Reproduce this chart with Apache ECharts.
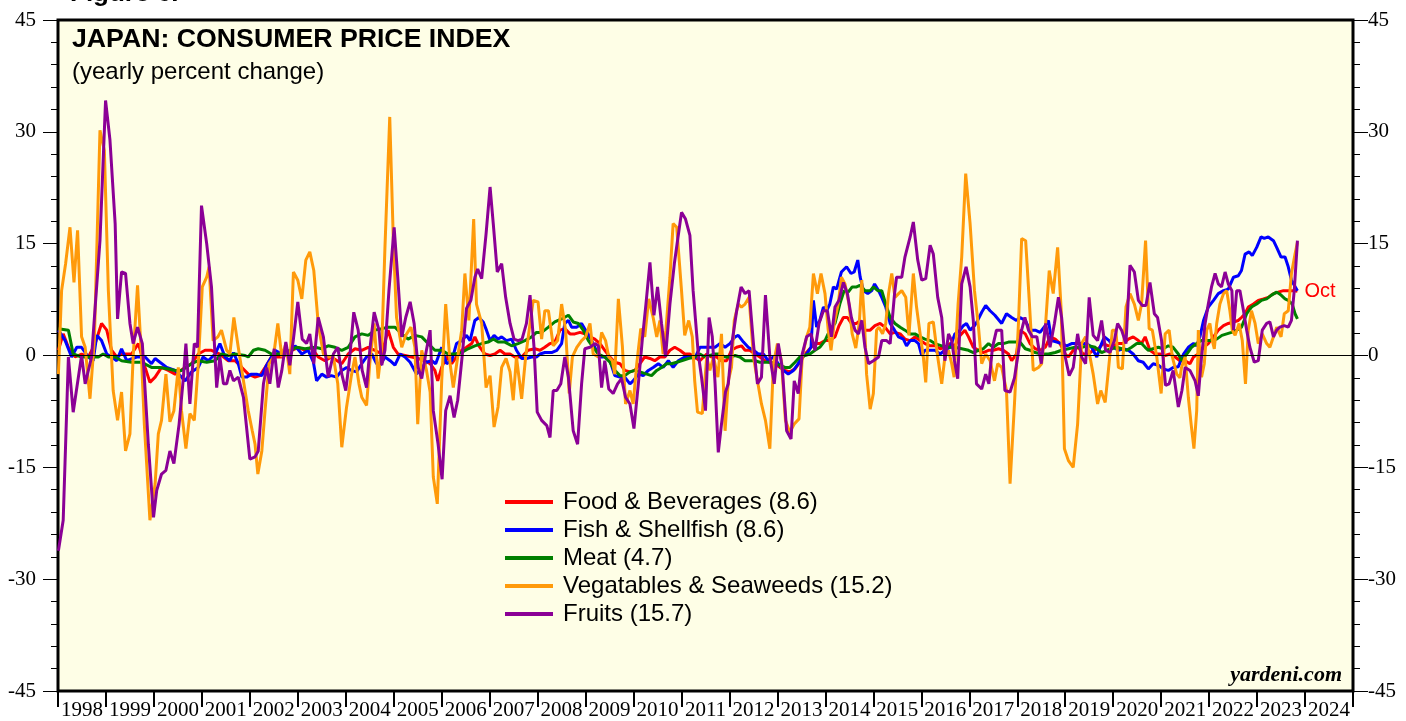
<!DOCTYPE html>
<html>
<head>
<meta charset="utf-8">
<title>Japan: Consumer Price Index</title>
<script src="https://cdn.jsdelivr.net/npm/echarts@6/dist/echarts.min.js"></script>
<style>
  html, body { margin: 0; padding: 0; background: #fff; }
  #chart { width: 1406px; height: 721px; }
</style>
</head>
<body>
<div id="chart"></div>
<script>
// x = months since Jan 1998, y = yearly percent change
var years = ['1998','1999','2000','2001','2002','2003','2004','2005','2006','2007','2008','2009','2010',
  '2011','2012','2013','2014','2015','2016','2017','2018','2019','2020','2021','2022','2023','2024'];

var names = ['Food & Beverages (8.6)', 'Fish & Shellfish (8.6)', 'Meat (4.7)',
  'Vegatables & Seaweeds (15.2)', 'Fruits (15.7)'];

var food = [[0.1,0.7],[1.3,2.9],[2.6,1.1],[4.3,-0.2],[5.9,0.2],[7.6,-0.2],[9.3,1.6],[10.9,4.3],[12.2,3.4],[13.4,0.7],[14.7,-0.2],[15.9,0.2],[18.4,0.2],[20.1,1.6],[21.8,-1.6],[23.0,-3.6],[24.3,-2.9],[25.9,-1.6],[27.6,-2.0],[29.3,-2.5],[31.8,-1.6],[33.4,-1.1],[35.1,0.2],[36.8,0.7],[38.4,0.7],[40.5,0.2],[42.6,-0.7],[44.3,-0.7],[46.0,-1.6],[47.6,-2.5],[49.3,-2.9],[50.5,-2.7],[51.8,-1.6],[53.4,-0.2],[56.0,-0.2],[58.5,0.7],[60.1,1.1],[61.8,0.7],[63.4,1.1],[65.1,-0.2],[66.8,-0.7],[68.4,-0.2],[71.0,-1.1],[72.6,0.2],[74.3,0.9],[76.0,0.7],[77.6,1.1],[79.3,0.7],[81.0,0.2],[82.6,3.4],[83.9,1.1],[85.1,0.2],[86.8,0],[88.5,-0.2],[90.1,-0.4],[91.8,-0.7],[93.1,-1.1],[94.3,-2.0],[95.0,-3.4],[96.0,-1.6],[97.2,-0.2],[98.5,-1.1],[99.7,-0.2],[101.0,0.7],[102.2,1.1],[103.5,1.6],[104.3,2.5],[105.3,1.3],[106.8,0.2],[108.1,0],[109.3,0.2],[110.6,0.7],[111.8,0.2],[113.1,0.2],[114.3,-0.2],[116.0,-0.2],[117.6,0.7],[119.3,0.9],[120.6,0.7],[121.8,1.1],[123.1,1.6],[124.3,1.8],[125.6,3.4],[126.8,3.6],[128.1,2.9],[129.3,2.9],[130.6,3.1],[131.8,2.9],[133.1,2.5],[134.3,2.2],[135.6,1.6],[136.8,0.7],[138.1,-0.2],[139.3,-0.9],[140.6,-1.1],[141.8,-2.0],[143.1,-2.2],[144.3,-2.0],[145.6,-1.1],[146.8,-0.2],[148.1,-0.4],[149.3,-0.7],[150.6,-0.2],[151.8,-0.2],[153.1,0.7],[154.3,1.1],[155.6,0.7],[156.8,0.2],[158.1,0.2],[159.3,-0.2],[160.6,-0.7],[162.3,0.2],[163.5,-0.2],[164.8,-0.2],[166.0,-0.7],[167.3,-0.7],[168.5,0.7],[169.8,1.1],[171.0,1.3],[171.9,0.7],[173.1,0.7],[174.4,0.2],[175.6,-0.2],[176.9,-0.7],[178.1,-0.9],[179.4,-1.1],[180.6,-1.6],[181.9,-2.0],[183.1,-2.2],[184.4,-1.8],[185.6,-0.9],[186.9,0.2],[188.1,0.9],[189.4,1.6],[190.6,1.6],[191.9,2.0],[193.1,2.0],[194.4,2.5],[195.4,4.0],[196.5,5.1],[197.5,5.1],[198.5,4.3],[199.8,4.3],[200.7,4.7],[201.9,3.4],[203.2,3.4],[204.4,4.0],[205.7,4.3],[206.9,3.8],[208.2,2.9],[209.4,3.1],[210.7,2.9],[211.9,2.2],[213.2,2.0],[214.4,2.5],[215.7,2.0],[216.9,1.6],[218.2,1.3],[219.4,1.3],[220.7,0.9],[221.9,1.1],[223.2,1.6],[224.4,1.3],[225.7,2.7],[226.9,3.4],[227.8,2.5],[229.0,1.1],[230.3,0.7],[231.5,0.4],[232.8,0.7],[234.0,0.7],[235.3,0.9],[236.5,0.7],[237.8,0.2],[238.6,-0.7],[239.8,0.2],[240.7,3.4],[242.0,2.9],[243.2,1.6],[244.5,0.9],[245.7,0.7],[247.0,1.1],[248.2,2.5],[249.5,2.2],[250.7,1.6],[252.0,0.2],[252.8,-0.2],[254.0,0.7],[255.3,1.1],[256.5,0.2],[257.8,0.2],[259.0,0.7],[260.3,0.9],[261.5,1.6],[262.8,1.3],[264.0,1.3],[265.3,1.6],[266.5,1.6],[267.8,2.2],[269.0,2.5],[270.3,2.0],[271.1,1.6],[272.0,2.5],[273.2,0.7],[274.5,0.2],[275.7,0.2],[277.0,0],[278.2,0.2],[279.5,-0.2],[280.7,-0.7],[282.0,-0.7],[283.2,-1.1],[284.1,-0.2],[285.3,0.2],[286.6,1.1],[287.8,1.6],[289.1,2.5],[290.3,3.4],[291.6,4.0],[292.8,4.3],[294.1,4.5],[295.3,4.7],[296.1,5.1],[297.0,5.6],[297.8,6.5],[299.1,6.9],[300.3,7.4],[301.6,7.6],[302.8,7.8],[304.1,8.3],[305.3,8.5],[306.6,8.7],[307.8,8.7],[309.1,8.7],[310.1,8.6]];

var fish = [[0.1,3.4],[1.8,2.0],[3.4,-0.2],[4.7,1.1],[5.9,1.1],[7.6,-0.2],[8.8,-0.7],[9.7,2.7],[10.9,2.0],[12.2,0.2],[13.4,-0.2],[14.7,-0.7],[15.9,0.9],[17.2,-0.7],[19.7,-0.2],[21.8,-0.2],[23.4,-1.1],[24.3,-0.4],[25.5,-0.9],[27.2,-1.6],[29.3,-2.0],[31.8,-3.4],[33.4,-2.2],[35.1,-1.6],[36.3,-0.2],[37.6,-0.7],[39.3,0.2],[40.5,1.6],[41.8,-0.2],[43.0,-0.7],[43.9,0.4],[45.1,-1.1],[46.0,-2.9],[47.2,-2.9],[48.4,-2.5],[49.7,-2.5],[51.0,-2.7],[52.2,-1.3],[53.4,-0.2],[54.3,0.7],[56.0,0.2],[57.6,0],[59.3,1.3],[61.0,0.2],[62.6,0.7],[63.9,-0.9],[64.7,-3.4],[66.0,-2.5],[67.2,-2.9],[68.4,-2.7],[69.7,-2.9],[71.0,-2.0],[72.2,-1.6],[73.4,-2.0],[74.7,-2.2],[76.0,-1.1],[77.2,-0.2],[78.5,0.2],[79.7,-1.1],[80.6,-1.3],[81.8,-0.2],[83.1,-0.7],[84.3,-1.3],[85.6,0.2],[86.8,-0.2],[88.1,-0.9],[89.7,-2.5],[91.0,-1.6],[92.2,-0.9],[93.5,-0.7],[94.5,-1.1],[96.0,1.1],[97.2,-1.1],[98.5,-0.7],[99.7,1.6],[101.0,2.0],[102.2,2.7],[103.1,2.0],[104.3,4.7],[105.3,5.1],[106.4,4.5],[107.2,3.4],[108.1,2.0],[109.1,2.7],[110.1,2.2],[111.0,2.5],[112.2,2.0],[113.5,2.2],[114.7,0.7],[116.0,-0.4],[117.2,-0.4],[118.5,-0.2],[119.7,-0.2],[120.6,0.2],[121.8,0.4],[123.5,0.4],[124.8,0.7],[126.0,1.6],[126.8,4.3],[127.7,4.7],[128.5,3.8],[129.8,3.8],[131.0,4.3],[132.0,3.4],[133.1,2.5],[134.3,1.1],[135.6,-0.2],[136.8,-0.2],[138.1,-0.7],[139.3,-2.7],[140.6,-2.9],[141.8,-2.9],[143.1,-3.8],[143.9,-3.4],[145.2,-2.5],[146.4,-2.7],[147.7,-2.0],[148.9,-1.6],[150.2,-1.1],[151.4,-1.6],[152.7,-0.7],[153.9,-1.6],[155.2,-0.7],[156.8,-0.2],[158.1,-0.2],[159.3,-0.4],[160.6,1.1],[161.9,1.1],[163.1,1.1],[164.4,1.1],[165.6,1.6],[166.9,1.1],[168.1,1.6],[169.4,2.5],[170.2,2.7],[171.5,1.8],[172.7,1.1],[174.0,0.7],[175.2,0.2],[176.5,0.2],[177.7,-0.7],[179.0,-0.2],[180.2,-1.1],[181.5,-2.0],[182.7,-2.5],[184.0,-2.0],[185.2,-1.1],[186.0,-0.2],[187.3,0.2],[188.4,1.1],[189.0,7.4],[189.8,3.8],[190.6,4.7],[191.5,6.5],[192.3,6.0],[193.1,6.9],[194.0,9.2],[194.8,8.9],[196.0,11.2],[197.3,11.9],[198.4,11.0],[199.2,11.2],[200.1,12.8],[200.7,10.5],[201.5,8.7],[202.6,8.3],[203.6,8.7],[204.3,9.6],[205.3,8.7],[206.1,7.8],[207.1,6.5],[208.2,4.3],[209.3,3.4],[210.3,2.5],[211.5,2.2],[212.3,1.3],[213.2,2.0],[214.4,2.0],[215.3,1.6],[216.1,0],[216.9,0.7],[218.2,0.7],[219.4,0.7],[220.7,0.2],[221.9,0.7],[223.2,1.1],[224.4,2.9],[225.7,3.4],[226.5,4.0],[227.3,4.3],[228.2,3.4],[229.3,4.0],[230.1,4.7],[231.1,5.8],[232.1,6.7],[233.2,6.0],[234.4,5.4],[236.1,4.3],[237.3,5.6],[238.6,5.1],[239.8,4.7],[240.7,5.1],[242.0,4.7],[243.2,3.4],[244.5,3.4],[245.7,3.1],[247.0,4.0],[247.8,4.7],[248.6,2.0],[249.9,1.8],[251.1,1.6],[252.4,1.3],[253.6,1.6],[254.9,1.6],[256.1,1.6],[257.4,1.6],[258.6,1.1],[259.9,-0.2],[260.7,1.1],[261.8,2.5],[263.0,2.0],[264.0,1.1],[265.3,0.7],[266.5,0.9],[267.8,0.7],[269.0,0.2],[270.3,-0.7],[271.5,-0.9],[272.8,-1.8],[274.0,-1.1],[275.3,-1.3],[276.5,-1.8],[277.8,-2.0],[279.0,-1.6],[280.3,-1.5],[281.6,0.2],[282.8,1.1],[284.1,1.6],[284.9,1.3],[285.7,2.5],[286.6,4.7],[287.8,6.5],[289.1,7.4],[290.3,8.3],[291.6,8.7],[292.8,8.9],[294.1,10.5],[295.3,10.7],[296.1,11.4],[297.0,13.6],[298.0,13.9],[298.8,13.4],[299.9,14.5],[301.0,15.9],[301.8,15.7],[302.8,15.9],[304.1,15.4],[304.9,14.5],[306.0,13.2],[307.0,13.2],[307.8,11.9],[308.6,10.1],[310.1,8.7]];

var meat = [[0.1,3.6],[2.6,3.4],[3.8,0.2],[5.9,-0.2],[7.6,-0.2],[10.1,-0.2],[11.3,0.2],[12.6,-0.2],[14.3,-0.2],[15.9,-0.7],[18.4,-0.9],[20.9,-0.9],[23.4,-1.6],[25.5,-1.6],[27.6,-1.8],[29.3,-2.0],[30.9,-2.0],[33.4,-1.1],[35.1,-0.7],[37.2,-0.9],[39.3,-0.7],[40.9,0.2],[42.6,0],[44.3,0.2],[46.8,0],[47.6,-0.2],[48.9,0.7],[50.1,0.9],[51.8,0.7],[53.4,0.2],[56.0,0.2],[58.0,0.7],[59.7,1.1],[61.8,0.9],[64.3,1.1],[66.0,0.9],[67.6,1.3],[69.3,1.1],[71.0,0.7],[72.6,1.1],[74.3,2.5],[76.0,2.9],[77.6,2.7],[79.3,3.4],[81.0,3.6],[82.6,3.8],[84.3,3.8],[86.0,2.9],[87.6,2.2],[89.3,2.7],[91.0,2.5],[92.6,1.6],[94.3,0.7],[96.0,0.7],[97.6,0.2],[99.3,0.2],[101.0,0.4],[102.6,0.9],[104.3,1.3],[106.0,1.6],[107.6,1.8],[108.9,2.2],[110.1,1.8],[111.8,1.8],[113.5,1.3],[115.1,1.6],[116.8,2.0],[118.5,2.5],[119.7,3.1],[121.0,3.1],[122.7,3.8],[124.3,4.5],[126.0,4.9],[127.7,5.4],[128.9,4.5],[130.2,4.3],[131.4,3.4],[132.7,2.0],[133.9,1.1],[135.2,0.2],[136.8,-0.2],[138.1,-0.9],[139.3,-2.0],[140.6,-2.7],[141.8,-2.7],[143.1,-2.2],[144.3,-2.0],[145.6,-2.2],[147.3,-2.5],[148.5,-2.7],[149.8,-2.0],[151.0,-1.6],[152.3,-1.1],[153.5,-1.1],[154.8,-0.9],[156.0,-0.7],[157.7,-0.4],[159.3,-0.2],[160.6,0.2],[161.9,-0.2],[163.1,0],[164.4,0.2],[165.6,0.2],[166.9,-0.2],[168.1,-0.2],[169.4,0],[170.6,-0.2],[171.9,-0.7],[173.1,-0.7],[174.4,-0.7],[175.6,-0.9],[176.9,-0.9],[178.1,-0.9],[179.4,-1.1],[180.6,-1.3],[181.9,-1.6],[183.1,-1.6],[184.4,-0.9],[185.6,-0.2],[186.9,0],[188.1,0.2],[189.4,0.7],[190.6,1.1],[191.9,2.0],[193.1,3.4],[194.4,4.3],[195.6,6.9],[196.7,8.7],[197.7,8.5],[198.7,9.2],[199.8,9.2],[200.6,9.4],[201.9,8.7],[203.2,8.7],[204.0,9.2],[205.1,8.7],[206.1,8.7],[207.1,6.9],[208.2,5.1],[209.4,4.3],[210.7,3.8],[211.9,3.4],[213.2,2.9],[214.4,2.9],[215.7,2.5],[216.9,2.2],[218.2,2.0],[219.4,1.6],[221.1,1.3],[222.8,1.1],[224.4,1.1],[226.1,0.9],[227.8,0.7],[229.0,0.4],[230.3,0.7],[231.5,0.9],[232.8,1.6],[234.0,1.1],[235.3,1.6],[236.5,1.6],[237.8,1.8],[239.0,1.8],[240.7,1.8],[242.0,0.9],[243.2,0.7],[244.5,0.4],[246.1,0.2],[247.8,0.2],[249.5,0.4],[251.1,0.7],[252.8,0.9],[254.5,1.1],[256.1,1.1],[257.8,1.3],[259.5,1.1],[261.1,0.4],[262.4,0.7],[263.6,0.9],[264.9,1.1],[266.1,0.9],[267.4,0.7],[268.6,1.1],[269.9,1.6],[271.1,1.6],[272.0,1.1],[272.8,0.7],[274.0,0.9],[275.3,1.1],[276.5,0.9],[277.8,1.3],[279.0,1.1],[280.3,0.2],[281.1,-0.7],[282.4,0.2],[283.6,1.1],[284.9,1.6],[286.1,2.0],[287.4,2.0],[288.6,2.0],[289.9,2.2],[291.2,2.7],[292.4,2.9],[293.6,3.1],[294.9,3.4],[296.1,3.8],[297.4,5.6],[298.6,6.5],[299.9,6.9],[301.1,7.4],[302.4,7.6],[303.6,8.1],[304.9,8.5],[306.0,8.1],[307.0,7.6],[307.8,7.4],[308.8,6.9],[309.5,5.6],[310.1,4.9]];

var veg = [[0.1,-2.5],[0.9,8.7],[1.9,12.3],[3.0,17.2],[4.0,9.8],[4.9,16.8],[5.9,2.5],[6.8,1.1],[8.0,-5.8],[9.1,2.0],[10.5,30.2],[11.6,27.5],[12.6,8.7],[13.8,-4.7],[14.9,-8.7],[15.9,-4.9],[16.9,-12.8],[18.0,-10.5],[18.8,-0.2],[19.9,9.4],[20.8,0.7],[21.6,-9.2],[23.0,-22.1],[24.3,-17.2],[25.1,-10.5],[25.9,-8.7],[27.0,-2.5],[28.0,-8.9],[29.0,-7.4],[30.1,-1.6],[30.9,-7.4],[32.0,-12.5],[33.0,-7.8],[34.1,-8.7],[35.1,-1.1],[36.1,9.2],[37.2,10.5],[37.8,11.9],[38.8,2.0],[40.0,2.5],[40.9,3.4],[42.2,0.7],[43.0,0.2],[44.0,5.1],[45.1,1.1],[46.4,-3.4],[47.6,-7.4],[48.6,-10.1],[49.3,-11.9],[50.0,-15.9],[51.0,-12.8],[51.8,-7.4],[52.8,-1.1],[53.9,-0.2],[55.0,4.3],[56.0,-0.2],[57.0,1.6],[58.0,-2.5],[58.9,11.2],[60.0,10.1],[61.0,7.6],[62.0,12.8],[63.0,13.9],[64.0,11.4],[65.1,4.3],[66.4,0.2],[67.6,-0.2],[68.9,-0.2],[70.0,-3.8],[71.0,-12.3],[72.2,-6.9],[73.4,-2.7],[74.3,-0.2],[75.3,-3.8],[76.0,-5.6],[77.2,-6.7],[78.0,-1.1],[79.1,4.3],[80.1,-3.1],[81.0,1.1],[81.8,14.5],[83.0,32.0],[83.9,15.4],[84.7,5.1],[86.0,1.1],[87.0,2.7],[88.3,3.8],[89.3,1.1],[90.0,-9.2],[91.0,0.7],[92.2,-2.0],[93.1,-4.9],[93.9,-16.3],[94.9,-19.9],[96.0,-3.4],[97.0,6.9],[98.1,-1.1],[98.9,-4.3],[100.0,-0.2],[101.0,3.4],[101.8,11.0],[102.8,4.7],[104.0,18.3],[104.7,6.9],[106.0,4.3],[107.1,-4.3],[108.1,-2.7],[109.1,-9.6],[110.1,-6.9],[111.0,-1.6],[112.1,-0.4],[113.1,-2.2],[113.9,-6.0],[114.7,-0.2],[116.0,-5.8],[117.0,-0.2],[118.1,4.3],[118.9,7.4],[120.1,7.2],[121.0,2.2],[121.8,6.0],[122.7,6.0],[123.9,1.3],[125.0,2.0],[126.0,6.9],[127.0,3.4],[127.9,-5.1],[128.7,-0.2],[129.8,1.1],[131.0,2.0],[132.0,2.5],[133.1,4.3],[133.9,0.2],[135.2,-0.2],[136.0,3.1],[137.0,2.0],[137.8,-0.2],[138.7,-0.7],[139.3,-2.5],[140.2,7.6],[141.2,1.3],[142.0,-6.5],[143.1,-4.7],[143.9,-6.5],[144.8,-1.1],[145.8,3.6],[146.8,2.5],[147.8,7.6],[148.9,5.1],[149.8,2.5],[150.6,4.7],[151.4,0.2],[152.1,3.4],[153.1,10.5],[153.9,17.7],[154.8,17.2],[156.0,8.7],[156.8,2.7],[157.8,4.7],[158.7,2.5],[159.3,-3.4],[160.0,-7.6],[161.2,-7.8],[162.3,-0.2],[163.1,-2.0],[164.0,-0.2],[165.1,-2.9],[166.0,2.9],[166.9,-10.1],[167.7,-3.4],[168.5,-1.6],[169.2,4.7],[170.2,6.9],[171.0,6.5],[171.9,6.9],[172.9,7.8],[174.0,-0.2],[175.0,-3.4],[176.0,-6.5],[177.0,-8.7],[178.1,-12.5],[179.0,-1.1],[180.0,1.6],[181.0,-0.7],[182.0,-8.7],[183.1,-10.3],[184.2,-9.2],[185.4,-8.5],[186.2,-0.2],[187.3,2.5],[188.1,3.8],[189.0,11.0],[190.0,8.3],[190.9,11.0],[191.9,8.3],[192.7,3.4],[193.4,0.7],[194.2,4.3],[195.2,6.9],[196.0,10.5],[196.9,9.6],[197.9,6.9],[198.7,2.9],[199.6,1.0],[200.5,4.5],[201.1,10.1],[201.8,4.3],[202.3,-2.5],[203.2,-7.2],[204.0,-5.1],[204.8,3.4],[205.4,3.8],[206.3,2.9],[207.1,4.3],[207.8,8.3],[208.6,11.0],[209.4,7.8],[210.3,8.3],[211.1,8.7],[212.1,7.8],[212.9,2.7],[214.0,11.0],[214.8,6.5],[215.7,2.9],[216.5,-0.2],[217.1,-3.6],[217.9,4.3],[219.0,4.5],[220.1,-0.2],[221.1,-3.8],[221.9,-0.2],[222.8,0.7],[223.6,-1.1],[224.2,-2.9],[225.2,6.9],[226.1,13.2],[227.1,24.4],[228.2,17.7],[229.3,8.7],[230.3,3.8],[231.1,-1.1],[232.1,0.2],[233.2,-0.7],[234.3,-3.4],[235.1,-1.1],[236.1,-1.6],[237.3,-4.7],[238.2,-17.2],[239.3,-6.5],[240.3,4.3],[241.1,15.7],[242.1,15.4],[243.0,7.4],[244.0,-2.0],[245.3,-1.6],[246.1,-1.1],[247.1,4.3],[248.0,11.4],[249.0,8.3],[250.1,14.5],[251.0,6.0],[251.8,-12.5],[252.8,-14.1],[254.0,-15.0],[255.1,-9.2],[256.1,1.6],[257.1,2.5],[258.2,-0.2],[259.0,-2.5],[260.1,-6.5],[260.9,-4.7],[262.0,-6.3],[262.8,-2.0],[263.8,3.4],[264.7,3.4],[265.3,-1.6],[266.3,-1.8],[267.2,6.5],[268.2,8.3],[269.3,6.9],[270.3,4.7],[271.1,6.9],[272.1,15.4],[273.0,3.6],[273.8,3.4],[274.9,-0.2],[276.0,-5.1],[277.0,2.9],[278.0,3.4],[278.8,-0.2],[279.9,-2.5],[280.7,-3.0],[281.1,-1.6],[282.0,-0.2],[282.8,-5.6],[283.5,-9.2],[284.2,-12.5],[284.9,-7.4],[285.3,3.4],[286.1,-2.9],[286.8,-1.1],[287.4,3.4],[288.2,4.3],[288.8,2.0],[289.3,0.9],[289.9,4.3],[290.7,6.9],[291.6,8.3],[292.4,8.7],[293.2,6.0],[293.8,3.4],[294.5,2.7],[295.5,4.3],[296.3,2.0],[297.1,-3.8],[297.8,3.4],[298.6,6.0],[299.5,4.3],[300.3,1.6],[301.3,2.9],[302.4,1.6],[303.2,1.1],[304.1,2.5],[304.9,3.8],[306.0,2.5],[306.8,5.6],[307.8,6.0],[308.6,11.0],[309.5,13.6],[310.1,15.2]];

var fruits = [[0.1,-26.2],[1.3,-22.1],[2.6,-0.2],[3.8,-7.6],[5.9,0],[6.8,-3.8],[8.4,-0.2],[10.5,15.4],[11.9,34.2],[13.0,28.9],[14.3,17.7],[14.9,4.9],[15.9,11.2],[16.9,11.0],[18.0,4.3],[18.8,1.6],[19.9,3.8],[21.1,1.6],[22.6,-11.9],[23.9,-21.7],[24.7,-18.1],[25.9,-15.9],[27.0,-15.4],[28.0,-12.8],[29.0,-14.5],[30.3,-9.2],[31.3,-3.4],[32.0,1.6],[33.0,-6.5],[34.1,1.6],[34.9,1.1],[35.9,20.1],[37.2,15.0],[38.4,9.2],[39.7,-4.3],[40.5,-0.2],[41.4,-3.8],[42.2,-3.8],[43.0,-2.0],[43.9,-3.4],[45.1,-2.9],[46.4,-5.6],[48.0,-13.9],[49.3,-13.6],[50.1,-12.8],[51.4,-3.8],[52.2,-1.6],[53.0,-3.8],[54.1,0.9],[55.1,-4.3],[56.0,-2.0],[57.0,1.8],[58.0,-1.3],[58.9,2.2],[60.0,7.2],[61.1,2.2],[62.2,1.6],[63.0,2.9],[64.0,-1.1],[65.1,5.1],[66.4,2.5],[67.6,-2.9],[68.9,0.2],[70.0,1.1],[71.0,-2.5],[72.0,-4.7],[73.0,-0.2],[74.0,5.8],[75.1,3.4],[76.1,-2.0],[77.2,-4.3],[78.0,0.7],[79.1,5.8],[80.3,3.4],[81.0,-1.3],[81.8,0.7],[82.8,8.7],[84.1,17.2],[85.0,10.5],[86.0,2.5],[87.0,5.1],[88.1,7.2],[89.1,4.3],[90.1,-1.6],[91.0,-3.1],[92.0,0.2],[93.1,3.4],[93.9,-7.4],[95.1,-11.9],[96.1,-16.6],[97.0,-7.4],[98.1,-5.4],[99.1,-8.3],[100.0,-6.0],[101.1,-0.2],[102.2,6.3],[103.3,7.4],[104.3,10.5],[105.0,11.6],[106.0,10.3],[107.1,16.3],[108.1,22.6],[108.9,17.7],[109.9,11.2],[111.0,12.3],[112.0,7.8],[113.1,4.3],[114.1,2.2],[115.1,2.0],[116.1,2.2],[117.2,4.3],[118.1,8.1],[119.1,1.1],[119.9,-7.6],[121.0,-8.7],[122.3,-9.4],[123.1,-11.0],[123.9,-4.7],[124.8,-4.7],[125.8,-3.8],[126.8,-0.2],[127.7,-2.9],[128.9,-10.1],[130.0,-11.9],[131.0,-3.8],[131.8,0.9],[133.1,1.1],[134.3,1.6],[135.2,1.3],[136.0,-4.3],[136.8,-0.7],[137.8,-4.5],[138.9,-5.1],[140.0,-3.8],[141.0,-3.1],[142.0,-5.6],[143.1,-6.5],[144.1,-9.8],[145.2,-3.8],[146.2,2.2],[147.1,6.9],[148.1,12.5],[149.1,5.4],[150.0,9.2],[151.0,4.3],[152.0,-0.2],[153.1,6.9],[154.2,12.3],[155.0,15.4],[156.0,19.2],[157.0,18.3],[158.1,16.1],[158.9,8.7],[160.2,0.2],[161.0,-2.9],[162.0,-7.4],[162.9,5.1],[163.7,2.5],[164.4,-3.8],[165.2,-13.0],[166.0,-9.2],[167.0,-4.9],[167.7,-3.8],[168.7,2.0],[169.8,6.0],[170.9,9.2],[171.9,8.3],[172.9,8.7],[174.0,1.6],[175.0,-3.8],[176.0,-2.9],[177.0,8.1],[178.1,-0.2],[179.2,-3.8],[180.2,1.6],[181.2,-1.6],[182.3,-10.1],[183.4,-11.2],[184.2,-3.4],[185.2,-5.1],[186.2,0.2],[187.3,2.5],[188.4,2.9],[189.4,0.7],[190.4,4.3],[191.5,6.0],[192.5,6.0],[193.5,2.5],[194.4,6.5],[195.4,7.4],[196.5,9.8],[197.5,8.3],[198.5,5.1],[199.4,3.4],[200.3,2.9],[201.1,4.7],[201.9,1.1],[202.8,-1.1],[204.0,-0.7],[205.3,-0.2],[206.1,2.0],[207.3,2.0],[208.2,1.6],[209.3,8.3],[209.8,10.5],[211.1,10.5],[211.9,13.2],[213.2,15.9],[214.0,17.9],[215.1,12.8],[216.1,10.1],[217.1,10.3],[218.2,14.8],[219.0,13.6],[220.1,7.8],[221.1,5.1],[221.9,-0.7],[222.8,2.9],[223.6,2.0],[224.3,-0.7],[225.1,-3.1],[226.1,9.6],[227.2,11.9],[228.2,9.2],[229.0,4.7],[229.8,-3.8],[231.1,-4.5],[232.1,-2.5],[232.9,-3.8],[233.8,1.1],[234.8,3.4],[236.1,3.4],[236.9,-4.7],[238.2,-4.9],[239.3,-3.0],[240.1,-0.2],[241.1,3.4],[241.9,5.1],[242.8,3.4],[243.8,2.5],[244.9,2.5],[246.0,-1.1],[247.1,4.3],[248.2,1.1],[249.3,4.3],[250.3,7.8],[251.1,5.1],[252.0,-0.2],[253.0,-2.7],[254.0,-1.6],[255.1,2.9],[256.1,-0.2],[257.1,-1.1],[258.0,7.8],[259.0,2.7],[260.1,2.0],[261.1,4.7],[262.1,0.7],[263.2,0.4],[264.3,2.0],[265.1,4.3],[266.1,3.4],[267.2,1.6],[268.2,12.1],[269.3,11.2],[270.3,7.4],[271.3,6.7],[272.2,6.7],[273.2,9.8],[274.3,5.6],[275.1,5.1],[276.1,2.0],[277.1,-4.0],[278.0,-3.8],[279.0,-2.0],[280.3,-6.9],[281.2,-4.7],[282.0,-1.6],[283.2,-2.0],[284.5,-3.4],[285.3,-5.4],[286.1,-0.2],[287.0,4.3],[287.8,6.9],[288.6,9.2],[289.5,11.0],[290.3,9.6],[291.1,9.2],[292.0,11.2],[292.8,9.6],[293.7,8.7],[294.1,3.4],[294.9,8.7],[295.7,8.7],[296.6,6.0],[297.4,3.4],[298.2,1.1],[299.3,-0.9],[300.3,-0.7],[301.3,3.4],[302.4,4.3],[303.2,4.5],[304.1,2.5],[304.9,3.4],[305.7,3.8],[306.8,4.0],[307.8,3.8],[308.6,4.7],[309.3,8.7],[310.1,15.4]];

var colors = ['#ff0000', '#0000ff', '#008000', '#ff9a0a', '#8b0096'];

var chart = echarts.init(document.getElementById('chart'));

function line(name, data, color) {
    return {
        name: name,
        type: 'line',
        data: data,
        xAxisIndex: 0,
        yAxisIndex: 0,
        symbol: 'none',
        color: color,
        lineStyle: { width: 3, color: color },
        animation: false
    };
}

var series = [
    line(names[0], food, colors[0]),
    line(names[1], fish, colors[1]),
    line(names[2], meat, colors[2]),
    line(names[3], veg, colors[3]),
    line(names[4], fruits, colors[4])
];
// "Oct" tag at the end of food & beverages
series[0].endLabel = {
    show: true, formatter: 'Oct', color: '#ff0000',
    fontFamily: 'Liberation Sans', fontSize: 20, distance: 7
};
// zero line on top of everything
series[4].markLine = {
    silent: true, symbol: 'none', animation: false,
    label: { show: false },
    lineStyle: { color: '#000', width: 1, type: 'solid' },
    data: [{ yAxis: 0 }]
};

var yAxisBase = {
    type: 'value', min: -45, max: 45, interval: 15,
    axisLine: { show: false },
    axisTick: { show: true, inside: false, length: 15, lineStyle: { color: '#000', width: 1 } },
    minorTick: { show: true, splitNumber: 5, length: 7, lineStyle: { color: '#000', width: 1 } },
    splitLine: { show: false },
    axisLabel: { color: '#000', fontFamily: 'Liberation Serif', fontSize: 21 }
};

var option = {
    backgroundColor: '#fff',
    animation: false,
    title: {
        text: 'JAPAN: CONSUMER PRICE INDEX',
        subtext: '(yearly percent change)',
        left: 72, top: 26, padding: 0, itemGap: 7,
        textStyle: { color: '#000', fontFamily: 'Liberation Sans', fontWeight: 'bold', fontSize: 26.7 },
        subtextStyle: { color: '#000', fontFamily: 'Liberation Sans', fontSize: 24 }
    },
    legend: {
        orient: 'vertical', left: 500, top: 485,
        icon: 'rect', itemWidth: 48, itemHeight: 4, itemGap: 4,
        textStyle: { color: '#000', fontFamily: 'Liberation Sans', fontSize: 24, padding: [0, 0, 0, 5] },
        data: names
    },
    grid: {
        left: 58, right: 53, top: 20, bottom: 29,
        show: true, backgroundColor: '#fefee6', borderColor: '#000', borderWidth: 3
    },
    xAxis: [{
        type: 'value', min: 0, max: 324, interval: 12,
        axisLine: { show: false, onZero: false },
        axisTick: { show: true, inside: false, length: 16, lineStyle: { color: '#000', width: 2 } },
        axisLabel: { show: false },
        splitLine: { show: false }
    }, {
        type: 'category', data: years, position: 'bottom', boundaryGap: true,
        axisLine: { show: false, onZero: false }, axisTick: { show: false },
        axisLabel: { color: '#000', fontFamily: 'Liberation Serif', fontSize: 21, margin: 9, interval: 0 }
    }],
    yAxis: [
        Object.assign({}, yAxisBase, { position: 'left', axisLabel: Object.assign({}, yAxisBase.axisLabel, { margin: 22 }) }),
        Object.assign({}, yAxisBase, { position: 'right', axisLabel: Object.assign({}, yAxisBase.axisLabel, { margin: 15 }) })
    ],
    graphic: [{
        type: 'text', left: 70, top: -19,
        style: { text: 'Figure 6.', fill: '#000', font: 'bold 26px "Liberation Sans"' }
    }, {
        type: 'text', right: 64, top: 664,
        style: { text: 'yardeni.com', fill: '#000', font: 'italic bold 22px "Liberation Serif"' }
    }],
    series: series
};

chart.setOption(option);
</script>
</body>
</html>
